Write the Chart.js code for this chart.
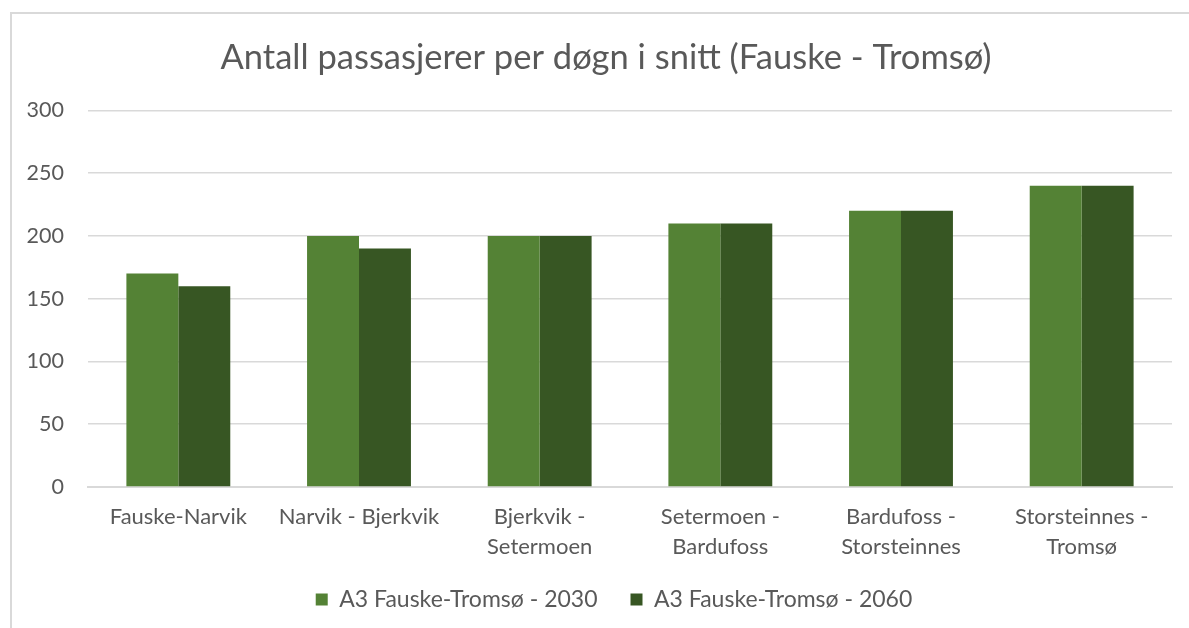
<!DOCTYPE html>
<html>
<head>
<meta charset="utf-8">
<script src="https://cdn.jsdelivr.net/npm/chart.js@4.4.0/dist/chart.umd.min.js"></script>
<style>
  html, body { margin: 0; padding: 0; background: #fff; overflow: hidden; }
  #frame { position: absolute; left: 10px; top: 12px; width: 1300px; height: 700px; border: 2px solid #d9d9d9; }
  #c { position: absolute; left: 0; top: 0; }
</style>
</head>
<body>
<div id="frame"></div>
<canvas id="c" width="1189" height="628"></canvas>
<script>
const categories = [
  'Fauske-Narvik',
  'Narvik - Bjerkvik',
  ['Bjerkvik -', 'Setermoen'],
  ['Setermoen -', 'Bardufoss'],
  ['Bardufoss -', 'Storsteinnes'],
  ['Storsteinnes -', 'Tromsø']
];
const values2030 = [170, 200, 200, 210, 220, 240];
const values2060 = [160, 190, 200, 210, 220, 240];
const yTicks = [0, 50, 100, 150, 200, 250, 300];

const textColor = '#595959';
const gridColor = '#d9d9d9';
const fontFamily = 'Lato, "Open Sans", sans-serif';

// Excel centres title and legend on the frame, not on the plot box.
// The x labels also run down into the legend band, so don't clip them.
const layoutTweaks = {
  id: 'layoutTweaks',
  afterLayout(chart) {
    chart.scales.x.bottom = chart.height;
    chart.titleBlock.left = 40;
    chart.legend.left = 56;
  }
};

const ctx = document.getElementById('c').getContext('2d');
const chart = new Chart(ctx, {
  type: 'bar',
  data: {
    labels: categories,
    datasets: [
      {
        label: 'A3 Fauske-Tromsø - 2030',
        data: values2030,
        backgroundColor: '#548235',
        barPercentage: 1,
        categoryPercentage: 0.575
      },
      {
        label: 'A3 Fauske-Tromsø - 2060',
        data: values2060,
        backgroundColor: '#375623',
        barPercentage: 1,
        categoryPercentage: 0.575
      }
    ]
  },
  options: {
    responsive: false,
    animation: false,
    layout: { padding: { left: 0, right: 17, top: 0, bottom: 7 } },
    plugins: {
      title: {
        display: true,
        text: 'Antall passasjerer per døgn i snitt (Fauske - Tromsø)',
        color: textColor,
        font: { family: fontFamily, size: 34.5, weight: 'normal' },
        padding: { top: 37, bottom: 32 }
      },
      legend: {
        position: 'bottom',
        labels: {
          color: textColor,
          font: { family: fontFamily, size: 23 },
          boxWidth: 12,
          boxHeight: 12,
          padding: 33
        }
      },
      tooltip: { enabled: false }
    },
    scales: {
      x: {
        grid: { display: false, drawTicks: false },
        border: { display: true, color: gridColor, width: 2 },
        ticks: {
          color: textColor,
          font: { family: fontFamily, size: 22, lineHeight: 1.36 },
          padding: 15,
          maxRotation: 0,
          autoSkip: false
        },
        afterFit: s => { s.height = 68; }
      },
      y: {
        min: 0,
        max: 300,
        afterBuildTicks: s => { s.ticks = yTicks.map(v => ({ value: v })); },
        grid: { color: gridColor, lineWidth: 1.5, drawTicks: false },
        border: { display: false },
        ticks: {
          color: textColor,
          font: { family: fontFamily, size: 21.5 },
          padding: 24
        },
        afterFit: s => { s.width = 88; }
      }
    }
  },
  plugins: [layoutTweaks]
});
</script>
</body>
</html>
